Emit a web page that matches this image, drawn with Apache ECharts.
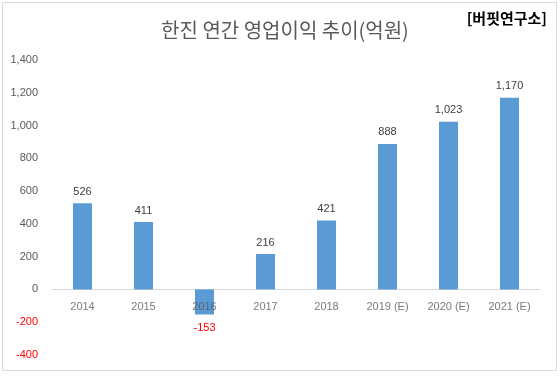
<!DOCTYPE html>
<html><head><meta charset="utf-8">
<script src="https://cdn.jsdelivr.net/npm/echarts@6/dist/echarts.min.js"></script>
<style>html,body{margin:0;padding:0;background:#fff}#c{width:560px;height:376px}</style>
</head><body><div id="c"></div>
<script>
const categories = ['2014','2015','2016','2017','2018','2019 (E)','2020 (E)','2021 (E)'];
const profits = [526, 411, -153, 216, 421, 888, 1023, 1170];
const yMin = -400, yMax = 1400, yStep = 200;

const fmt = v => Number(v).toLocaleString('en-US');
const chart = echarts.init(document.getElementById('c'));
chart.setOption({
  animation: false,
  textStyle: { fontFamily: 'Noto Sans CJK KR, Liberation Sans, sans-serif' },
  graphic: [{
    type: 'rect', shape: { x: 2.5, y: 2.5, width: 554, height: 368 },
    style: { fill: 'none', stroke: '#d9d9d9', lineWidth: 1 }, silent: true
  }],
  title: [{
    text: '한진 연간 영업이익 추이(억원)', left: 280, top: 15, textAlign: 'center',
    textStyle: { fontSize: 20, fontWeight: 'normal', color: '#595959', fontFamily: 'Noto Sans CJK KR' }
  }, {
    text: '[버핏연구소]', right: 8, top: 6,
    textStyle: { fontSize: 15, fontWeight: 'bold', color: '#000', fontFamily: 'Noto Sans CJK KR' }
  }],
  grid: { left: 52, right: 20, top: 60, bottom: 21, containLabel: false },
  xAxis: {
    type: 'category', data: categories,
    axisLine: { onZero: true, lineStyle: { color: '#d9d9d9' } },
    axisTick: { show: false },
    axisLabel: { show: false }
  },
  yAxis: {
    type: 'value', min: yMin, max: yMax, interval: yStep,
    axisLine: { show: false }, axisTick: { show: false }, splitLine: { show: false },
    axisLabel: {
      fontSize: 11, margin: 14, fontFamily: 'Liberation Sans, sans-serif',
      formatter: v => fmt(v),
      color: v => (Number(v) < 0 ? '#ff0000' : '#595959')
    }
  },
  series: [{
    type: 'bar', data: profits.map(v => v < 0
      ? { value: v, label: { position: 'bottom', color: '#ff0000', distance: 8 } } : v),
    barWidth: 19,
    itemStyle: { color: '#5b9bd5' },
    label: {
      show: true, position: 'top', distance: 6, fontSize: 11, color: '#404040',
      fontFamily: 'Liberation Sans, sans-serif',
      formatter: p => fmt(p.value)
    }
  }, {
    // category labels drawn at the zero line
    type: 'scatter', data: categories.map(() => 0), symbolSize: 0, z: 5, silent: true,
    label: {
      show: true, position: 'bottom', distance: 12, fontSize: 11, color: '#595959',
      fontFamily: 'Liberation Sans, sans-serif',
      formatter: p => categories[p.dataIndex]
    }
  }]
});
</script></body></html>
